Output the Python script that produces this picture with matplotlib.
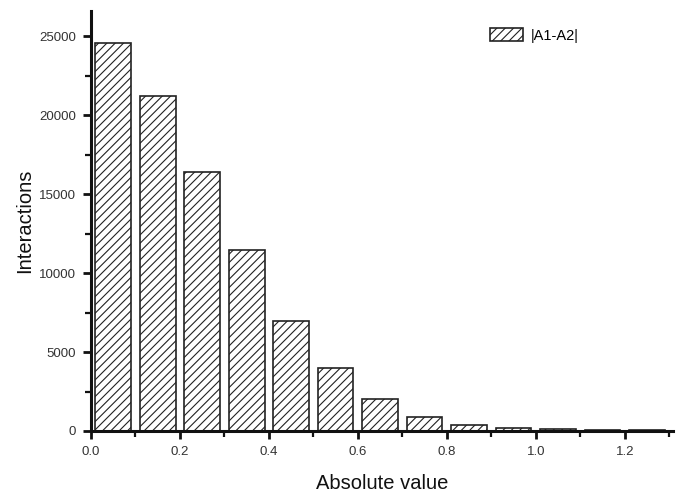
import matplotlib
matplotlib.use("Agg")
import matplotlib.pyplot as plt
from matplotlib.ticker import MultipleLocator

plt.rcParams['font.family'] = ['Liberation Sans', 'DejaVu Sans']
plt.rcParams['hatch.linewidth'] = 0.8

bin_centers = [0.05, 0.15, 0.25, 0.35, 0.45, 0.55, 0.65, 0.75, 0.85, 0.95, 1.05, 1.15, 1.25]
counts = [24600, 21200, 16400, 11450, 6950, 4000, 2050, 900, 400, 200, 110, 70, 60]
series_label = "|A1-A2|"

fig = plt.figure(figsize=(6.81, 4.92), dpi=100)
ax = fig.add_axes([0.1336, 0.124, 0.8546, 0.8537])

ax.bar(bin_centers, counts, width=0.08, facecolor='white', edgecolor='#222222',
       linewidth=1.2, hatch='////', label=series_label)

ax.set_xlim(0, 1.308)
ax.set_ylim(0, 26600)
ax.xaxis.set_major_locator(MultipleLocator(0.2))
ax.xaxis.set_minor_locator(MultipleLocator(0.1))
ax.yaxis.set_major_locator(MultipleLocator(5000))
ax.yaxis.set_minor_locator(MultipleLocator(2500))
ax.xaxis.set_major_formatter(matplotlib.ticker.FormatStrFormatter('%.1f'))

for s in ['top', 'right']:
    ax.spines[s].set_visible(False)
for s in ['left', 'bottom']:
    ax.spines[s].set_linewidth(2.2)
    ax.spines[s].set_color('#111111')

ax.tick_params(which='major', direction='out', length=6, width=2, color='#111111',
               labelsize=9.5, labelcolor='#333333', pad=5)
ax.tick_params(which='minor', direction='out', length=4, width=1.6, color='#111111')

ax.set_xlabel('Absolute value', fontsize=14.5, color='#111111', labelpad=11)
ax.set_ylabel('Interactions', fontsize=14.5, color='#111111', labelpad=3)

leg = ax.legend(loc='upper right', bbox_to_anchor=(0.86, 0.99), frameon=False,
                fontsize=10.5, handlelength=2.3, handleheight=1.0, handletextpad=0.5)

fig.savefig('out.png', dpi=100)
